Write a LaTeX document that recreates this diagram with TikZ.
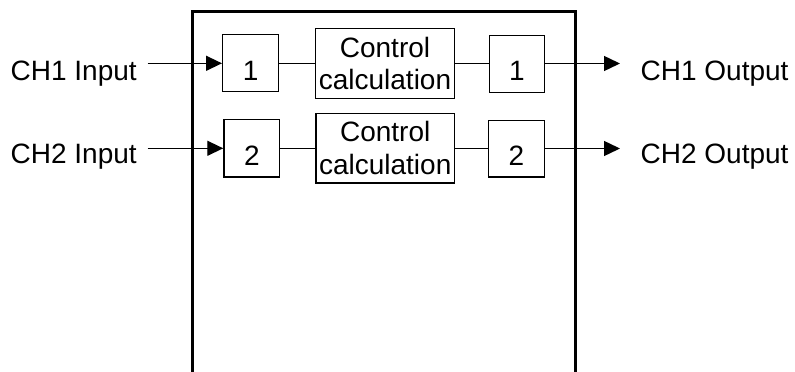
\documentclass[tikz,border=0pt]{standalone}
\usepackage{fontspec}
\setmainfont{Liberation Sans}
\usetikzlibrary{arrows.meta}
\tikzset{
  thinbox/.style={draw, line width=1.4pt, inner sep=0pt},
  lbl/.style={anchor=base, inner sep=0pt, font=\fontsize{28}{31.6}\selectfont},
  lblw/.style={anchor=base west, inner sep=0pt, font=\fontsize{28}{31.6}\selectfont},
  wire/.style={line width=1.4pt},
  arr/.style={line width=1.4pt, -{Triangle[length=16pt,width=15pt]}}
}
\begin{document}
\begin{tikzpicture}[x=1pt,y=-1pt]
\useasboundingbox[fill=white] (0,0) rectangle (795,372);
% outer frame
\coordinate (fbl) at (192.3,373);
\coordinate (ftl) at (192.3,11.7);
\coordinate (ftr) at (575.5,11.7);
\coordinate (fbr) at (575.5,373);
\draw[line width=2.6pt] (fbl) -- (ftl) -- (ftr) -- (fbr);
% row 1
\node[thinbox, minimum width=56pt, minimum height=57pt] (b1i) at (250.7,63) {};
\node[thinbox, minimum width=138.6pt, minimum height=70pt] (c1) at (385,63.3) {};
\node[thinbox, minimum width=55.4pt, minimum height=57pt] (b1o) at (517,63.8) {};
\node[lbl] (n1i) at (250.7,80) {1};
\node[lbl] (n1o) at (517,80) {1};
\node[lbl] (c1a) at (385,57.4) {Control};
\node[lbl] (c1b) at (385,89.3) {calculation};
% row 2
\node[thinbox, minimum width=55.7pt, minimum height=57.7pt] (b2i) at (251.8,148.2) {};
\node[thinbox, minimum width=138.3pt, minimum height=69.7pt] (c2) at (385.2,148.2) {};
\node[thinbox, minimum width=56pt, minimum height=56.3pt] (b2o) at (516.3,148.8) {};
\node[lbl] (n2i) at (251.8,165) {2};
\node[lbl] (n2o) at (516.3,165) {2};
\node[lbl] (c2a) at (385.2,141.9) {Control};
\node[lbl] (c2b) at (385.2,174) {calculation};
% labels
\node[lblw] (in1) at (10.5,80) {CH1 Input};
\node[lblw] (in2) at (10.5,163.5) {CH2 Input};
\node[lblw] (out1) at (640.5,80) {CH1 Output};
\node[lblw] (out2) at (640.5,163.5) {CH2 Output};
% wire ends
\coordinate (s1) at (147.7,63.3);
\coordinate (s2) at (147.7,148.3);
\coordinate (e1) at (620,63.5);
\coordinate (e2) at (620,148.5);
% connectors
\draw[arr] (s1) -- (b1i.west |- s1);
\draw[arr] (s2) -- (b2i.west |- s2);
\draw[wire] (b1i.east |- c1.west) -- (c1.west);
\draw[wire] (c1.east) -- (b1o.west |- c1.east);
\draw[wire] (b2i.east |- c2.west) -- (c2.west);
\draw[wire] (c2.east) -- (b2o.west |- c2.east);
\draw[arr] (b1o.east |- e1) -- (e1);
\draw[arr] (b2o.east |- e2) -- (e2);
\end{tikzpicture}
\end{document}
